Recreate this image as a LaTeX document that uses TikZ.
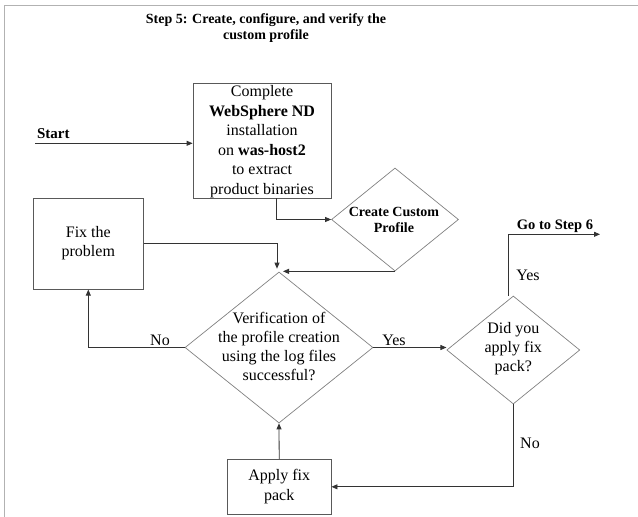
\documentclass[tikz,border=0pt]{standalone}
\usepackage{fontspec}
\setmainfont{Liberation Serif}
\usetikzlibrary{shapes.geometric,arrows.meta,calc}
\begin{document}
\begin{tikzpicture}[x=1pt,y=-1pt,
  boxn/.style={draw=black!65, line width=0.8pt, rectangle, inner sep=0pt},
  dia/.style={draw=black!50, line width=0.7pt, diamond, inner sep=0pt},
  txt/.style={align=center, font=\fontsize{16}{19.5}\selectfont, inner sep=0pt},
  btxt/.style={align=center, font=\fontsize{14}{16.5}\selectfont\bfseries, inner sep=0pt},
  lbl/.style={font=\fontsize{16}{19.5}\selectfont, inner sep=0pt},
  arr/.style={draw=black!80, line width=0.8pt, -{Triangle[length=6pt,width=5pt]}}]
\useasboundingbox (0,0) rectangle (638,517);
\draw[black!30, line width=1.2pt] (638,5.5) -- (4.5,5.5) -- (4.5,517);

\node[btxt] (title) at (266,28) {Step 5: Create, configure, and verify the\\custom profile};

% nodes
\node[boxn, minimum width=138, minimum height=115] (inst) at (262,140.5) {};
\node[txt] (instt) at (262,141.5) {Complete\\\textbf{WebSphere ND}\\installation\\on \textbf{was-host2}\\to extract\\product binaries};

\node[dia, minimum width=127, minimum height=103] (create) at (395,219.5) {};
\node[btxt, font=\fontsize{14}{16}\selectfont\bfseries] (createt) at (394,220) {Create Custom\\Profile};

\node[boxn, minimum width=110, minimum height=91] (fix) at (88.3,243.7) {};
\node[txt] (fixt) at (88.3,243) {Fix the\\problem};

\node[dia, minimum width=188, minimum height=151] (ver) at (279,347.5) {};
\node[txt, font=\fontsize{16}{19}\selectfont] (vert) at (279,346.5) {Verification of\\the profile creation\\using the log files\\successful?};

\node[dia, minimum width=133, minimum height=108] (did) at (513.3,350) {};
\node[txt, font=\fontsize{16}{19}\selectfont] (didt) at (513.3,349) {Did you\\apply fix\\pack?};

\node[boxn, minimum width=103.7, minimum height=55] (apply) at (279.2,486.8) {};
\node[txt] (applyt) at (279.2,486.7) {Apply fix\\pack};

% free ends
\coordinate (start) at (35,143.3);
\coordinate (g0) at ([xshift=-5pt]did.north);
\coordinate (go) at (600,234.3);

% connectors
\draw[arr] (start) -- (start -| inst.west);
\node[btxt, font=\fontsize{15}{17}\selectfont\bfseries] (startl) at (53.3,133.3) {Start};

\draw[arr] ([xshift=14.7pt]inst.south) |- (create.west);
\draw[arr] (create.south) -- ([xshift=4pt]ver.north |- create.south);
\draw[arr] (fix.east) -| ([xshift=-2pt,yshift=3pt]ver.north);

\draw[arr] (ver.west) -| (fix.south);
\node[lbl] (nol) at (160,340) {No};

\draw[arr] (ver.east) -- (ver.east -| did.west);
\node[lbl] (yesl) at (394,340) {Yes};

\draw[arr] (g0) |- (go);
\node[btxt, font=\fontsize{14.5}{17}\selectfont\bfseries] (gol) at (555,226) {Go to Step 6};
\node[lbl] (yes2) at (528,275) {Yes};

\draw[arr] (did.south) |- (apply.east);
\node[lbl] (no2) at (530,443.3) {No};

\draw[arr] (apply.north) -- (ver.south);
\end{tikzpicture}
\end{document}
